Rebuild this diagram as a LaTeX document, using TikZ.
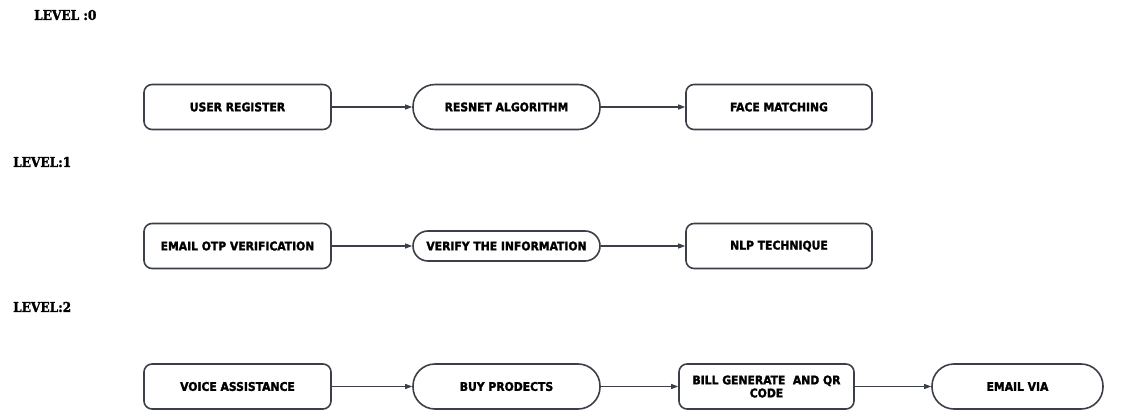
\documentclass[tikz,border=0pt]{standalone}
\usepackage{fontspec}
\newfontfamily\boxfont{DejaVu Sans Condensed}[BoldFeatures={FakeBold=1.8}]
\newfontfamily\lvlfont{DejaVu Serif Condensed}[BoldFeatures={FakeBold=1.8}]
\usetikzlibrary{arrows.meta}
\definecolor{lc}{HTML}{3A3F48}
\tikzset{
  x=1pt,y=-1pt,
  base/.style={draw=lc,line width=1.6pt,inner sep=0pt,align=center,
    font=\boxfont\bfseries\fontsize{12}{13}\selectfont,minimum height=45pt},
  procbox/.style={base,rounded corners=8pt,minimum width=187pt},
  termbox/.style={base,rounded corners=22pt,minimum width=187pt},
  lvl/.style={font=\lvlfont\bfseries\fontsize{13.5}{15}\selectfont,anchor=west,inner sep=0pt},
  conn/.style={draw=lc,line width=1.3pt,-{Triangle[length=7pt,width=5pt]}}
}
\begin{document}
\begin{tikzpicture}
\useasboundingbox (0,0) rectangle (1137,411);
\node[lvl] (l0) at (34,15) {LEVEL :0};
\node[lvl] (l1) at (13,162) {LEVEL:1};
\node[lvl] (l2) at (13,307) {LEVEL:2};

\node[procbox] (ur) at (237.5,107) {USER REGISTER};
\node[termbox] (rn) at (506.5,107) {RESNET ALGORITHM};
\node[procbox,minimum width=186pt] (fm) at (779,107) {FACE MATCHING};

\node[procbox] (eo) at (237.5,246) {EMAIL OTP VERIFICATION};
\node[termbox,minimum height=30pt,rounded corners=15pt] (vi) at (506.5,246) {VERIFY THE INFORMATION};
\node[procbox,minimum width=186pt] (nl) at (779,246) {NLP TECHNIQUE};

\node[procbox] (va) at (237.5,386.5) {VOICE ASSISTANCE};
\node[termbox] (bp) at (506.5,386.5) {BUY PRODECTS};
\node[procbox,minimum width=175pt] (bg) at (766.5,386.5) {BILL GENERATE\ \ AND QR\\CODE};
\node[termbox,minimum width=171pt] (ev) at (1017.5,386.5) {EMAIL VIA};

\draw[conn] (ur) -- (rn);
\draw[conn] (rn) -- (fm);
\draw[conn] (eo) -- (vi);
\draw[conn] (vi) -- (nl);
\draw[conn] (va) -- (bp);
\draw[conn] (bp) -- (bg);
\draw[conn] (bg) -- (ev);
\end{tikzpicture}
\end{document}
